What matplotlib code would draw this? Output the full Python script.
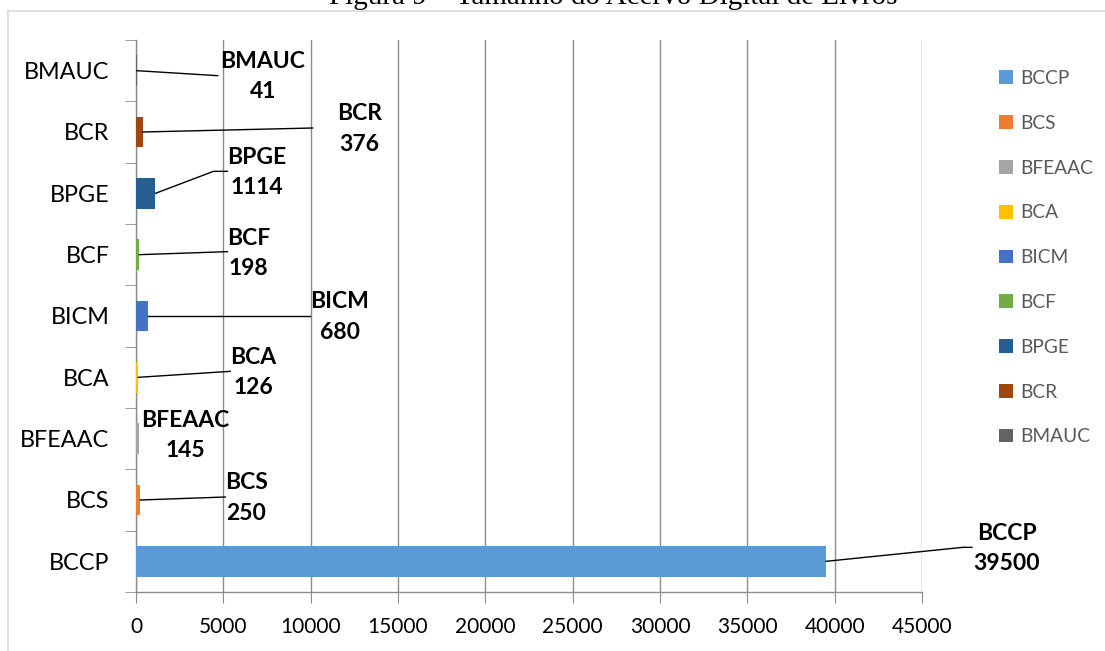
import matplotlib
matplotlib.use("Agg")
import matplotlib.pyplot as plt
from matplotlib.patches import Patch
from matplotlib.lines import Line2D
from matplotlib.transforms import IdentityTransform

# Library collections (bottom to top on the chart)
categories = ["BCCP", "BCS", "BFEAAC", "BCA", "BICM", "BCF", "BPGE", "BCR", "BMAUC"]
values = [39500, 250, 145, 126, 680, 198, 1114, 376, 41]
colors = ["#5B9BD5", "#ED7D31", "#A5A5A5", "#FFC000", "#4472C4",
          "#70AD47", "#255E91", "#9E480E", "#636363"]
x_ticks = [0, 5000, 10000, 15000, 20000, 25000, 30000, 35000, 40000, 45000]
title = "Figura 9 – Tamanho do Acervo Digital de Livros"

# Data-label placement: pixel offset (right, down) of each label centre from the bar end
label_offsets = [(181, -13), (106, -2), (47, -3), (115, -5), (192, 1),
                 (109, -1), (101, -21), (217, -3), (126, 6)]
# Leader line vertices after the bar end, same pixel offsets
leader_points = [[(137, -14), (146, -14)], [(85, -3)], [], [(92, -6)], [(162, 0)],
                 [(88, -3)], [(58, -22), (72, -22)], [(170, -4)], [(81, 5)]]

W, H, DPI = 1105, 651, 100
fig = plt.figure(figsize=(W / DPI, H / DPI), dpi=DPI)
fig.patch.set_facecolor("white")

SANS = "Lato"
grid_col = "#8c8c8c"

ax = fig.add_axes([136 / W, 1 - 592 / H, (922 - 136) / W, (592 - 40) / H])
ypos = list(range(len(categories)))
ax.barh(ypos, values, height=0.5, color=colors, zorder=3)

ax.set_xlim(0, 45000)
ax.set_ylim(-0.5, len(categories) - 0.5)

ax.set_xticks(x_ticks)
ax.set_xticklabels([str(t) for t in x_ticks], fontsize=15, family=SANS, color="black")
ax.tick_params(axis="x", direction="out", length=8, color=grid_col, pad=10)
ax.xaxis.grid(True, color=grid_col, linewidth=1, zorder=0)
ax.set_axisbelow(True)

ax.set_yticks(ypos)
ax.set_yticklabels(categories, fontsize=16.8, family=SANS, color="black")
ax.set_yticks([y - 0.5 for y in range(len(categories) + 1)], minor=True)
ax.tick_params(axis="y", which="major", length=0, pad=19)
ax.tick_params(axis="y", which="minor", direction="out", length=8, color=grid_col)

for s in ("top", "right"):
    ax.spines[s].set_visible(False)
for s in ("left", "bottom"):
    ax.spines[s].set_color(grid_col)
    ax.spines[s].set_linewidth(1)

# Data labels with leader lines
ident = IdentityTransform()
for i, (name, v) in enumerate(zip(categories, values)):
    bx, by = ax.transData.transform((v, i))
    dx, dy = label_offsets[i]
    ax.text(bx + dx, by - dy, f"{name}\n{v}", transform=ident, ha="center", va="center",
            fontsize=16.5, fontweight="bold", family=SANS, linespacing=1.55, zorder=5)
    pts = leader_points[i]
    if pts:
        xs = [bx] + [bx + px for px, _ in pts]
        ys = [by] + [by - py for _, py in pts]
        fig.add_artist(Line2D(xs, ys, transform=ident, color="black", linewidth=1, zorder=6))

# Legend on the right
handles = [Patch(facecolor=c, edgecolor="none") for c in colors]
fig.legend(handles, categories, loc="upper left",
           bbox_to_anchor=(999 / W, 1 - 70 / H), frameon=False,
           prop={"family": SANS, "size": 13.8},
           handlelength=0.72, handleheight=0.72, handletextpad=0.4,
           labelspacing=1.45, borderpad=0, borderaxespad=0, labelcolor="#595959")

# Chart area border (left and top edges)
border = "#d9d9d9"
fig.add_artist(Line2D([8 / W, 8 / W], [0, 1 - 10.5 / H], transform=fig.transFigure,
                      color=border, linewidth=1.2))
fig.add_artist(Line2D([8 / W, 1], [1 - 10.5 / H, 1 - 10.5 / H], transform=fig.transFigure,
                      color=border, linewidth=1.2))

# Caption above the chart
fig.text(613.5 / W, 1 - 4 / H, title, ha="center", va="baseline",
         fontsize=21, family="Liberation Serif", color="black")

fig.savefig("out.png", dpi=DPI)
